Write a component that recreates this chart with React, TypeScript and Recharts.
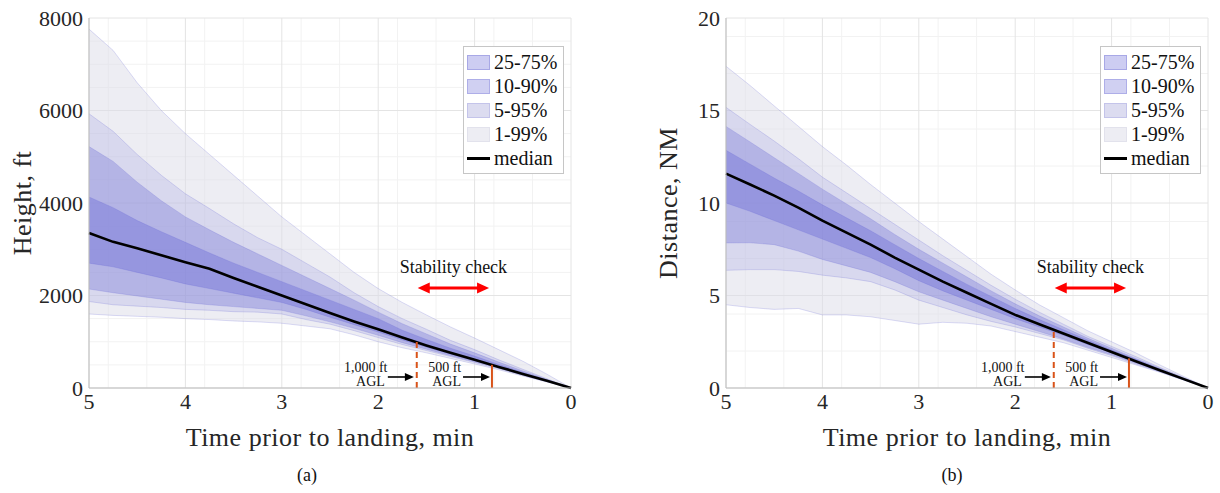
import {
  Area,
  CartesianGrid,
  ComposedChart,
  Legend,
  Line,
  ReferenceDot,
  ReferenceLine,
  XAxis,
  YAxis,
} from "recharts";

const FONT = "Liberation Serif, serif";
const INK = "#262626";
const ORANGE = "#D95319";

// time prior to landing, min
const time = [5, 4.75, 4.5, 4.25, 4, 3.75, 3.5, 3.25, 3, 2.75, 2.5, 2.25, 2, 1.75, 1.5, 1.25, 1, 0.75, 0.5, 0.25, 0];

// height percentiles, ft
const heightP1 = [1600, 1570, 1550, 1530, 1500, 1480, 1450, 1430, 1400, 1340, 1280, 1150, 1000, 870, 760, 640, 520, 395, 260, 130, 0];
const heightP5 = [1870, 1800, 1770, 1740, 1700, 1680, 1650, 1640, 1600, 1480, 1380, 1240, 1090, 940, 810, 680, 550, 420, 275, 140, 0];
const heightP10 = [2140, 2060, 1990, 1920, 1850, 1800, 1760, 1720, 1680, 1560, 1430, 1290, 1140, 980, 840, 700, 565, 430, 285, 145, 0];
const heightP25 = [2700, 2620, 2500, 2380, 2250, 2150, 2050, 1950, 1850, 1700, 1530, 1370, 1210, 1040, 880, 730, 590, 445, 295, 150, 0];
const heightMedian = [3350, 3160, 3020, 2870, 2720, 2580, 2380, 2190, 2000, 1810, 1620, 1440, 1270, 1090, 920, 760, 610, 455, 305, 155, 0];
const heightP75 = [4130, 3900, 3620, 3380, 3150, 2920, 2700, 2500, 2300, 2100, 1900, 1700, 1500, 1250, 1050, 860, 690, 510, 340, 170, 0];
const heightP90 = [5220, 4900, 4450, 4050, 3700, 3420, 3150, 2900, 2650, 2400, 2150, 1900, 1640, 1390, 1170, 950, 760, 560, 370, 185, 0];
const heightP95 = [5930, 5550, 5050, 4600, 4200, 3880, 3550, 3250, 3000, 2700, 2400, 2060, 1760, 1500, 1270, 1030, 830, 610, 405, 200, 0];
const heightP99 = [7760, 7300, 6600, 6000, 5500, 5050, 4600, 4150, 3700, 3300, 2900, 2500, 2150, 1850, 1580, 1320, 1080, 830, 580, 300, 0];

// distance percentiles, NM
const distP1 = [4.5, 4.35, 4.25, 4.3, 3.95, 3.95, 3.85, 3.65, 3.45, 3.55, 3.5, 3.35, 3.05, 2.75, 2.45, 2.05, 1.65, 1.25, 0.85, 0.42, 0];
const distP5 = [6.36, 6.4, 6.4, 6.3, 6.1, 5.95, 5.75, 5.3, 4.75, 4.35, 3.95, 3.6, 3.3, 2.95, 2.6, 2.15, 1.75, 1.3, 0.88, 0.44, 0];
const distP10 = [7.84, 7.85, 7.75, 7.4, 6.95, 6.6, 6.25, 5.75, 5.2, 4.75, 4.3, 3.85, 3.45, 3.05, 2.65, 2.2, 1.8, 1.35, 0.9, 0.45, 0];
const distP25 = [10.0, 9.55, 9.05, 8.55, 8.05, 7.55, 7.05, 6.45, 5.8, 5.25, 4.75, 4.25, 3.75, 3.3, 2.85, 2.35, 1.9, 1.4, 0.93, 0.47, 0];
const distMedian = [11.59, 11.0, 10.4, 9.75, 9.05, 8.4, 7.75, 7.05, 6.4, 5.75, 5.15, 4.55, 3.95, 3.45, 2.95, 2.45, 1.95, 1.45, 0.96, 0.48, 0];
const distP75 = [12.85, 12.1, 11.35, 10.65, 9.9, 9.2, 8.5, 7.75, 7.0, 6.3, 5.6, 4.95, 4.3, 3.7, 3.15, 2.6, 2.05, 1.55, 1.02, 0.51, 0];
const distP90 = [14.14, 13.3, 12.45, 11.6, 10.75, 9.95, 9.15, 8.3, 7.5, 6.75, 6.0, 5.25, 4.55, 3.9, 3.3, 2.7, 2.15, 1.6, 1.07, 0.53, 0];
const distP95 = [15.17, 14.25, 13.35, 12.4, 11.4, 10.55, 9.7, 8.85, 8.0, 7.15, 6.35, 5.55, 4.8, 4.1, 3.45, 2.8, 2.25, 1.7, 1.12, 0.56, 0];
const distP99 = [17.39, 16.35, 15.25, 14.15, 13.05, 12.05, 11.0, 10.0, 9.0, 8.05, 7.1, 6.15, 5.3, 4.5, 3.8, 3.1, 2.5, 1.9, 1.25, 0.62, 0];

const timeTicks = [5, 4, 3, 2, 1, 0];
const timeMinor = [0.2, 0.4, 0.6, 0.8, 1.2, 1.4, 1.6, 1.8, 2.2, 2.4, 2.6, 2.8, 3.2, 3.4, 3.6, 3.8, 4.2, 4.4, 4.6, 4.8];
const heightTicks = [0, 2000, 4000, 6000, 8000];
const heightMinor = [500, 1000, 1500, 2500, 3000, 3500, 4500, 5000, 5500, 6500, 7000, 7500];
const distTicks = [0, 5, 10, 15, 20];
const distMinor = [1, 2, 3, 4, 6, 7, 8, 9, 11, 12, 13, 14, 16, 17, 18, 19];

const bands = [
  { key: "b1", name: "1-99%", fill: "#dcdce8", opacity: 0.5, swatch: "#ededf3", edge: "#e2e2ec" },
  { key: "b5", name: "5-95%", fill: "#9696dc", opacity: 0.24, swatch: "#dcdcf0", edge: "#c4c4ea" },
  { key: "b10", name: "10-90%", fill: "#7878d7", opacity: 0.37, swatch: "#d0d0f2", edge: "#aeaee8" },
  { key: "b25", name: "25-75%", fill: "#6464d7", opacity: 0.37, swatch: "#cdcdf2", edge: "#a8a8e6" },
];

function buildRows(p1: number[], p5: number[], p10: number[], p25: number[], med: number[], p75: number[], p90: number[], p95: number[], p99: number[]) {
  return time.map((t, i) => ({
    t,
    b1: [p1[i], p99[i]],
    b5: [p5[i], p95[i]],
    b10: [p10[i], p90[i]],
    b25: [p25[i], p75[i]],
    med: med[i],
  }));
}

const heightRows = buildRows(heightP1, heightP5, heightP10, heightP25, heightMedian, heightP75, heightP90, heightP95, heightP99);
const distRows = buildRows(distP1, distP5, distP10, distP25, distMedian, distP75, distP90, distP95, distP99);

function BandLegend() {
  return (
    <div
      style={{
        border: "1px solid #c6c6c6",
        background: "#fff",
        padding: "3px 6px 3px 3px",
        fontFamily: FONT,
        fontSize: 20,
        color: "#111",
        lineHeight: "24px",
      }}
    >
      {[...bands].reverse().map((b) => (
        <div key={b.key} style={{ display: "flex", alignItems: "center", gap: 4 }}>
          <span style={{ width: 21, height: 13, background: b.swatch, border: `1px solid ${b.edge}` }} />
          <span>{b.name}</span>
        </div>
      ))}
      <div style={{ display: "flex", alignItems: "center", gap: 4 }}>
        <span style={{ width: 23, height: 3, background: "#000" }} />
        <span>median</span>
      </div>
    </div>
  );
}

function XTitle(props: any) {
  const { x, y, width } = props.viewBox;
  return (
    <text x={x + width / 2} y={y + 49} textAnchor="middle" dominantBaseline="central" fontFamily={FONT} fontSize={26} letterSpacing={0.5} fill={INK}>
      {props.caption}
    </text>
  );
}

function YTitle(props: any) {
  const { x, y, height } = props.viewBox;
  const cx = x + props.shift;
  const cy = y + height / 2;
  return (
    <text x={cx} y={cy} transform={`rotate(-90 ${cx} ${cy})`} textAnchor="middle" dominantBaseline="central" fontFamily={FONT} fontSize={26} letterSpacing={0.5} fill={INK}>
      {props.caption}
    </text>
  );
}

function RedDoubleArrow(props: any) {
  const { x1, y1, x2 } = props;
  const head = 12;
  const half = 5.5;
  return (
    <g>
      <line x1={x1 + head - 1} y1={y1} x2={x2 - head + 1} y2={y1} stroke="#ff0000" strokeWidth={3} />
      <polygon points={`${x1},${y1} ${x1 + head},${y1 - half} ${x1 + head},${y1 + half}`} fill="#ff0000" />
      <polygon points={`${x2},${y1} ${x2 - head},${y1 - half} ${x2 - head},${y1 + half}`} fill="#ff0000" />
    </g>
  );
}

function BlackArrow(props: any) {
  const { x1, y1, x2 } = props;
  const head = 9;
  const half = 4;
  return (
    <g>
      <line x1={x1} y1={y1} x2={x2 - head + 1} y2={y1} stroke="#000" strokeWidth={1.6} />
      <polygon points={`${x2},${y1} ${x2 - head},${y1 - half} ${x2 - head},${y1 + half}`} fill="#000" />
    </g>
  );
}

const noteText = (text: string, size: number) => (p: any) => (
  <text x={p.cx} y={p.cy} textAnchor="middle" dominantBaseline="central" fontFamily={FONT} fontSize={size} fill="#111">
    {text}
  </text>
);

interface PanelProps {
  rows: ReturnType<typeof buildRows>;
  yTicks: number[];
  yMinor: number[];
  yMax: number;
  yTitle: string;
  yTitleShift: number;
  yAxisWidth: number;
  rightMargin: number;
  legendLeft: number;
  gate1000: number;
  gate500: number;
  noteHi: number;
  noteLo: number;
  arrowY: number;
  stabilityY: number;
  stabilityArrowY: number;
}

function Panel(p: PanelProps) {
  return (
    <ComposedChart width={610} height={493} data={p.rows} margin={{ top: 18, right: p.rightMargin, bottom: 0, left: 0 }}>
      <CartesianGrid verticalValues={timeMinor} horizontalValues={p.yMinor} stroke="#f2f2f2" strokeWidth={1} />
      <CartesianGrid verticalValues={timeTicks} horizontalValues={p.yTicks} stroke="#e4e4e4" strokeWidth={1} />
      <XAxis
        dataKey="t"
        type="number"
        domain={[0, 5]}
        reversed
        ticks={timeTicks}
        height={105}
        axisLine={{ stroke: "#bdbdbd" }}
        tickLine={false}
        tickSize={2}
        tickMargin={3}
        tick={{ fontFamily: FONT, fontSize: 22, fill: INK }}
        label={<XTitle caption="Time prior to landing, min" />}
      />
      <YAxis
        type="number"
        domain={[0, p.yMax]}
        ticks={p.yTicks}
        width={p.yAxisWidth}
        axisLine={{ stroke: "#bdbdbd" }}
        tickLine={false}
        tickSize={2}
        tickMargin={4}
        tick={{ fontFamily: FONT, fontSize: 22, fill: INK }}
        label={<YTitle caption={p.yTitle} shift={p.yTitleShift} />}
      />
      {bands.map((b) => (
        <Area
          key={b.key}
          dataKey={b.key}
          name={b.name}
          type="linear"
          fill={b.fill}
          fillOpacity={b.opacity}
          stroke="#5a5ad2"
          strokeOpacity={0.3}
          strokeWidth={0.7}
          isAnimationActive={false}
        />
      ))}
      <Line dataKey="med" name="median" type="linear" stroke="#000" strokeWidth={2.6} dot={false} isAnimationActive={false} />
      <ReferenceLine segment={[{ x: 1.6, y: 0 }, { x: 1.6, y: p.gate1000 }]} stroke={ORANGE} strokeWidth={2} strokeDasharray="6 4" />
      <ReferenceLine segment={[{ x: 0.82, y: 0 }, { x: 0.82, y: p.gate500 }]} stroke={ORANGE} strokeWidth={2} />
      <ReferenceLine segment={[{ x: 1.9, y: p.arrowY }, { x: 1.63, y: p.arrowY }]} shape={BlackArrow} />
      <ReferenceLine segment={[{ x: 1.12, y: p.arrowY }, { x: 0.84, y: p.arrowY }]} shape={BlackArrow} />
      <ReferenceLine segment={[{ x: 1.59, y: p.stabilityArrowY }, { x: 0.85, y: p.stabilityArrowY }]} shape={RedDoubleArrow} />
      <ReferenceDot x={2.13} y={p.noteHi} shape={noteText("1,000 ft", 14)} />
      <ReferenceDot x={2.08} y={p.noteLo} shape={noteText("AGL", 14)} />
      <ReferenceDot x={1.31} y={p.noteHi} shape={noteText("500 ft", 14)} />
      <ReferenceDot x={1.29} y={p.noteLo} shape={noteText("AGL", 14)} />
      <ReferenceDot x={1.22} y={p.stabilityY} shape={noteText("Stability check", 18)} />
      <Legend
        layout="vertical"
        align="center"
        verticalAlign="middle"
        content={<BandLegend />}
        wrapperStyle={{ left: p.legendLeft, top: 46, width: "auto" }}
      />
    </ComposedChart>
  );
}

const captionStyle = {
  position: "absolute" as const,
  top: 465,
  width: 60,
  textAlign: "center" as const,
  fontFamily: FONT,
  fontSize: 18,
  color: "#111",
};

export default function App() {
  return (
    <div style={{ position: "absolute", left: 0, top: 0, width: 1220, height: 493, background: "#fff", fontFamily: FONT }}>
      <div style={{ position: "absolute", left: 0, top: 0 }}>
        <Panel
          rows={heightRows}
          yTicks={heightTicks}
          yMinor={heightMinor}
          yMax={8000}
          yTitle="Height, ft"
          yTitleShift={22}
          yAxisWidth={89}
          rightMargin={39}
          legendLeft={463}
          gate1000={1000}
          gate500={500}
          noteHi={454}
          noteLo={151}
          arrowY={238}
          stabilityY={2616}
          stabilityArrowY={2162}
        />
      </div>
      <div style={{ position: "absolute", left: 610, top: 0 }}>
        <Panel
          rows={distRows}
          yTicks={distTicks}
          yMinor={distMinor}
          yMax={20}
          yTitle="Distance, NM"
          yTitleShift={58}
          yAxisWidth={116}
          rightMargin={12}
          legendLeft={490}
          gate1000={3.13}
          gate500={1.6}
          noteHi={1.135}
          noteLo={0.378}
          arrowY={0.595}
          stabilityY={6.54}
          stabilityArrowY={5.41}
        />
      </div>
      <div style={{ ...captionStyle, left: 277 }}>(a)</div>
      <div style={{ ...captionStyle, left: 922 }}>(b)</div>
    </div>
  );
}
